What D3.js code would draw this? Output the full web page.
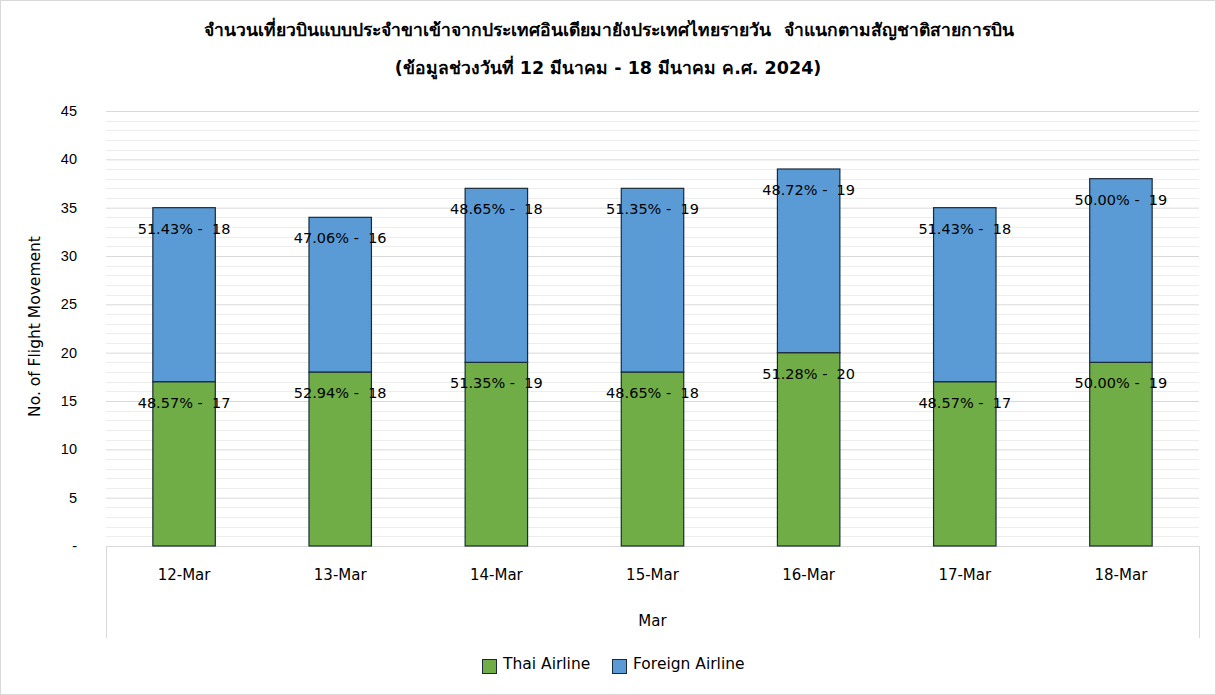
<!DOCTYPE html>
<html>
<head>
<meta charset="utf-8">
<script src="https://cdn.jsdelivr.net/npm/d3@7"></script>
<style>
  body { margin: 0; background: #fff; }
  svg { display: block; font-family: "DejaVu Sans", "Noto Sans", sans-serif; }
</style>
</head>
<body>
<svg id="chart" width="1216" height="695"></svg>
<script>
const DAYS = ['12-Mar', '13-Mar', '14-Mar', '15-Mar', '16-Mar', '17-Mar', '18-Mar'];
const THAI = [17, 18, 19, 18, 20, 17, 19];
const FOREIGN = [18, 16, 18, 19, 19, 18, 19];
const THAI_PCT = ['48.57%', '52.94%', '51.35%', '48.65%', '51.28%', '48.57%', '50.00%'];
const FOREIGN_PCT = ['51.43%', '47.06%', '48.65%', '51.35%', '48.72%', '51.43%', '50.00%'];
const Y_TICKS = [0, 5, 10, 15, 20, 25, 30, 35, 40, 45];
const TITLE = [
    'จำนวนเที่ยวบินแบบประจำขาเข้าจากประเทศอินเดียมายังประเทศไทยรายวัน  จำแนกตามสัญชาติสายการบิน',
    '(ข้อมูลช่วงวันที่ 12 มีนาคม - 18 มีนาคม ค.ศ. 2024)'
];
const GROUP = 'Mar';
const SERIES = [
    { name: 'Thai Airline', color: '#70ad47' },
    { name: 'Foreign Airline', color: '#5b9bd5' }
];

const svg = d3.select('#chart');
const W = 1216, H = 695;
const margin = { top: 111, right: 17, bottom: 149, left: 106 };
const innerW = W - margin.left - margin.right;
const innerH = H - margin.top - margin.bottom;

// outer chart border
svg.append('rect')
    .attr('x', 0.5).attr('y', 0.5)
    .attr('width', W - 1).attr('height', H - 1)
    .attr('fill', '#fff').attr('stroke', '#d9d9d9');

const title = svg.append('text')
    .attr('text-anchor', 'middle')
    .attr('font-weight', 'bold')
    .attr('font-size', 17.5)
    .attr('fill', '#000')
    .attr('xml:space', 'preserve')
    .style('white-space', 'pre');
title.append('tspan').attr('x', 609).attr('y', 36).text(TITLE[0]);
title.append('tspan').attr('x', 608).attr('y', 74).text(TITLE[1]);

const g = svg.append('g').attr('transform', `translate(${margin.left},${margin.top})`);

const x = d3.scaleBand().domain(DAYS).range([0, innerW]).paddingInner(0.6).paddingOuter(0.3);
const y = d3.scaleLinear().domain([0, 45]).range([innerH, 0]);

// minor gridlines
g.append('g').selectAll('line')
    .data(d3.range(1, 46).filter(v => v % 5 !== 0))
    .join('line')
    .attr('x1', 0).attr('x2', innerW)
    .attr('y1', d => Math.round(y(d)) + 0.5).attr('y2', d => Math.round(y(d)) + 0.5)
    .attr('stroke', '#ededed');

// major gridlines + y axis
const yAxis = d3.axisLeft(y).tickValues(Y_TICKS).tickSize(-innerW).tickPadding(29)
    .tickFormat(d => d === 0 ? '-' : d);
g.append('g').call(yAxis)
    .call(s => s.select('.domain').remove())
    .call(s => s.selectAll('.tick line').attr('stroke', '#d9d9d9'))
    .call(s => s.selectAll('.tick text').attr('font-size', 14.5).attr('fill', '#000'));

// category axis box
g.append('line').attr('x1', 0).attr('x2', innerW).attr('y1', innerH + 0.5).attr('y2', innerH + 0.5)
    .attr('stroke', '#d9d9d9');
[0, innerW].forEach(px => {
    g.append('line').attr('x1', px + 0.5).attr('x2', px + 0.5)
        .attr('y1', innerH).attr('y2', innerH + 92)
        .attr('stroke', '#d9d9d9');
});

g.append('g').selectAll('text')
    .data(DAYS)
    .join('text')
    .attr('x', d => x(d) + x.bandwidth() / 2)
    .attr('y', innerH + 34)
    .attr('text-anchor', 'middle')
    .attr('font-size', 15)
    .text(d => d);

g.append('text')
    .attr('x', innerW / 2)
    .attr('y', innerH + 80)
    .attr('text-anchor', 'middle')
    .attr('font-size', 15)
    .text(GROUP);

// y axis title
svg.append('text')
    .attr('transform', `translate(40,${margin.top + innerH / 2 - 2}) rotate(-90)`)
    .attr('text-anchor', 'middle')
    .attr('font-size', 15.5)
    .text('No. of Flight Movement');

// stacked bars
const rows = DAYS.map((d, i) => ({ day: d, thai: THAI[i], foreign: FOREIGN[i], i }));
const stack = d3.stack().keys(['thai', 'foreign'])(rows);
const pcts = [THAI_PCT, FOREIGN_PCT];
const vals = [THAI, FOREIGN];

stack.forEach((layer, k) => {
    g.append('g').selectAll('rect')
        .data(layer)
        .join('rect')
        .attr('x', d => x(d.data.day))
        .attr('y', d => y(d[1]))
        .attr('width', x.bandwidth())
        .attr('height', d => y(d[0]) - y(d[1]))
        .attr('fill', SERIES[k].color)
        .attr('stroke', '#1b2a38')
        .attr('stroke-width', 1.2);

    g.append('g').selectAll('text')
        .data(layer)
        .join('text')
        .attr('x', d => x(d.data.day) + x.bandwidth() / 2)
        .attr('y', d => y(d[1]) + 26)
        .attr('text-anchor', 'middle')
        .attr('font-size', 14.5)
        .attr('fill', '#000')
        .attr('xml:space', 'preserve')
        .style('white-space', 'pre')
        .text(d => `${pcts[k][d.data.i]} -  ${vals[k][d.data.i]}`);
});

// legend
const legend = svg.append('g').attr('transform', 'translate(482,659)');
const items = [{ s: SERIES[0], x: 0 }, { s: SERIES[1], x: 130 }];
items.forEach(it => {
    legend.append('rect')
        .attr('x', it.x + 0.5).attr('y', 0.5).attr('width', 14).attr('height', 14)
        .attr('fill', it.s.color).attr('stroke', '#1b2a38');
    legend.append('text')
        .attr('x', it.x + 21).attr('y', 10)
        .attr('font-size', 15.5)
        .text(it.s.name);
});
</script>
</body>
</html>
